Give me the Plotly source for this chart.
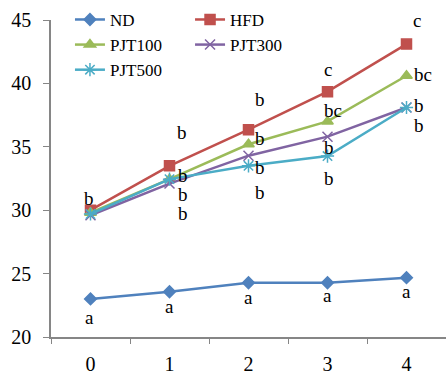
import plotly.graph_objects as go

categories = ["0", "1", "2", "3", "4"]
series_names = ["ND", "HFD", "PJT100", "PJT300", "PJT500"]
nd = [23.0, 23.57, 24.28, 24.28, 24.68]
hfd = [30.0, 33.5, 36.35, 39.35, 43.1]
pjt100 = [29.8, 32.45, 35.2, 37.0, 40.6]
pjt300 = [29.6, 32.1, 34.3, 35.8, 38.1]
pjt500 = [29.7, 32.45, 33.5, 34.27, 38.1]
y_ticks = [20, 25, 30, 35, 40, 45]

# significance letters per series and category
letters_nd = ["a", "a", "a", "a", "a"]
letters_hfd = ["b", "b", "b", "c", "c"]
letters_pjt100 = ["", "b", "b", "bc", "bc"]
letters_pjt300 = ["", "b", "b", "b", "b"]
letters_pjt500 = ["", "b", "b", "b", "b"]

colors = ["#4F81BD", "#C0504D", "#9BBB59", "#8064A2", "#4BACC6"]
symbols = ["diamond", "square", "triangle-up", "x-thin-open", "asterisk-open"]
sizes = [9, 10, 10, 10, 11]
values = [nd, hfd, pjt100, pjt300, pjt500]
legends = ["legend", "legend2", "legend", "legend2", "legend"]

FONT = "'Liberation Serif', 'Times New Roman', serif"

fig = go.Figure()
for name, vals, c, s, sz, lg in zip(series_names, values, colors, symbols, sizes, legends):
    fig.add_trace(go.Scatter(
        x=categories, y=vals, name=name, mode="lines+markers",
        line=dict(color=c, width=2.5),
        marker=dict(symbol=s, size=sz, color=c, line=dict(color=c, width=1.5)),
        legend=lg,
    ))

# label offsets in pixels (xshift, yshift) relative to the point
offsets = {
    "ND": [(-1, -19), (0, -15), (0, -15), (0, -13), (0, -14)],
    "HFD": [(-2, 12), (12, 33), (11, 30), (0, 22), (10, 24)],
    "PJT100": [None, (13, 4), (11, 6), (5, 11), (16, 1)],
    "PJT300": [None, (13, -11), (11, -12), (1, -11), (12, 2)],
    "PJT500": [None, (13, -34), (11, -27), (1, -22), (12, -18)],
}
all_letters = [letters_nd, letters_hfd, letters_pjt100, letters_pjt300, letters_pjt500]
for name, vals, lets in zip(series_names, values, all_letters):
    for i, (cat, v, t) in enumerate(zip(categories, vals, lets)):
        if not t:
            continue
        dx, dy = offsets[name][i]
        fig.add_annotation(x=cat, y=v, text=t, showarrow=False,
                           xshift=dx, yshift=dy,
                           font=dict(family=FONT, size=19, color="black"))

fig.update_layout(
    width=446, height=374,
    margin=dict(l=51, r=0, t=20, b=37, autoexpand=False),
    paper_bgcolor="white", plot_bgcolor="white",
    font=dict(family=FONT, color="black"),
    legend=dict(x=0.048, y=1.057, xanchor="left", yanchor="top",
                font=dict(family=FONT, size=17, color="black"),
                bgcolor="rgba(0,0,0,0)", itemwidth=30, tracegroupgap=0),
    legend2=dict(x=0.352, y=1.057, xanchor="left", yanchor="top",
                 font=dict(family=FONT, size=17, color="black"),
                 bgcolor="rgba(0,0,0,0)", itemwidth=30, tracegroupgap=0),
)
fig.update_xaxes(type="category", range=[-0.5, 4.5], tickson="boundaries",
                 ticks="outside", ticklen=5, ticklabelstandoff=8,
                 tickcolor="#868686", showline=True, linecolor="#868686", linewidth=1.5,
                 showgrid=False, zeroline=False,
                 tickfont=dict(family=FONT, size=20, color="black"))
fig.update_yaxes(range=[20, 45], tickvals=y_ticks, ticks="outside", ticklen=6,
                 ticklabelstandoff=8,
                 tickcolor="#868686", showline=True, linecolor="#868686", linewidth=1.5,
                 showgrid=False, zeroline=False,
                 tickfont=dict(family=FONT, size=20, color="black"))

fig.write_html("out.html", config={"displayModeBar": False},
               post_script="document.body.style.margin='0px';")
